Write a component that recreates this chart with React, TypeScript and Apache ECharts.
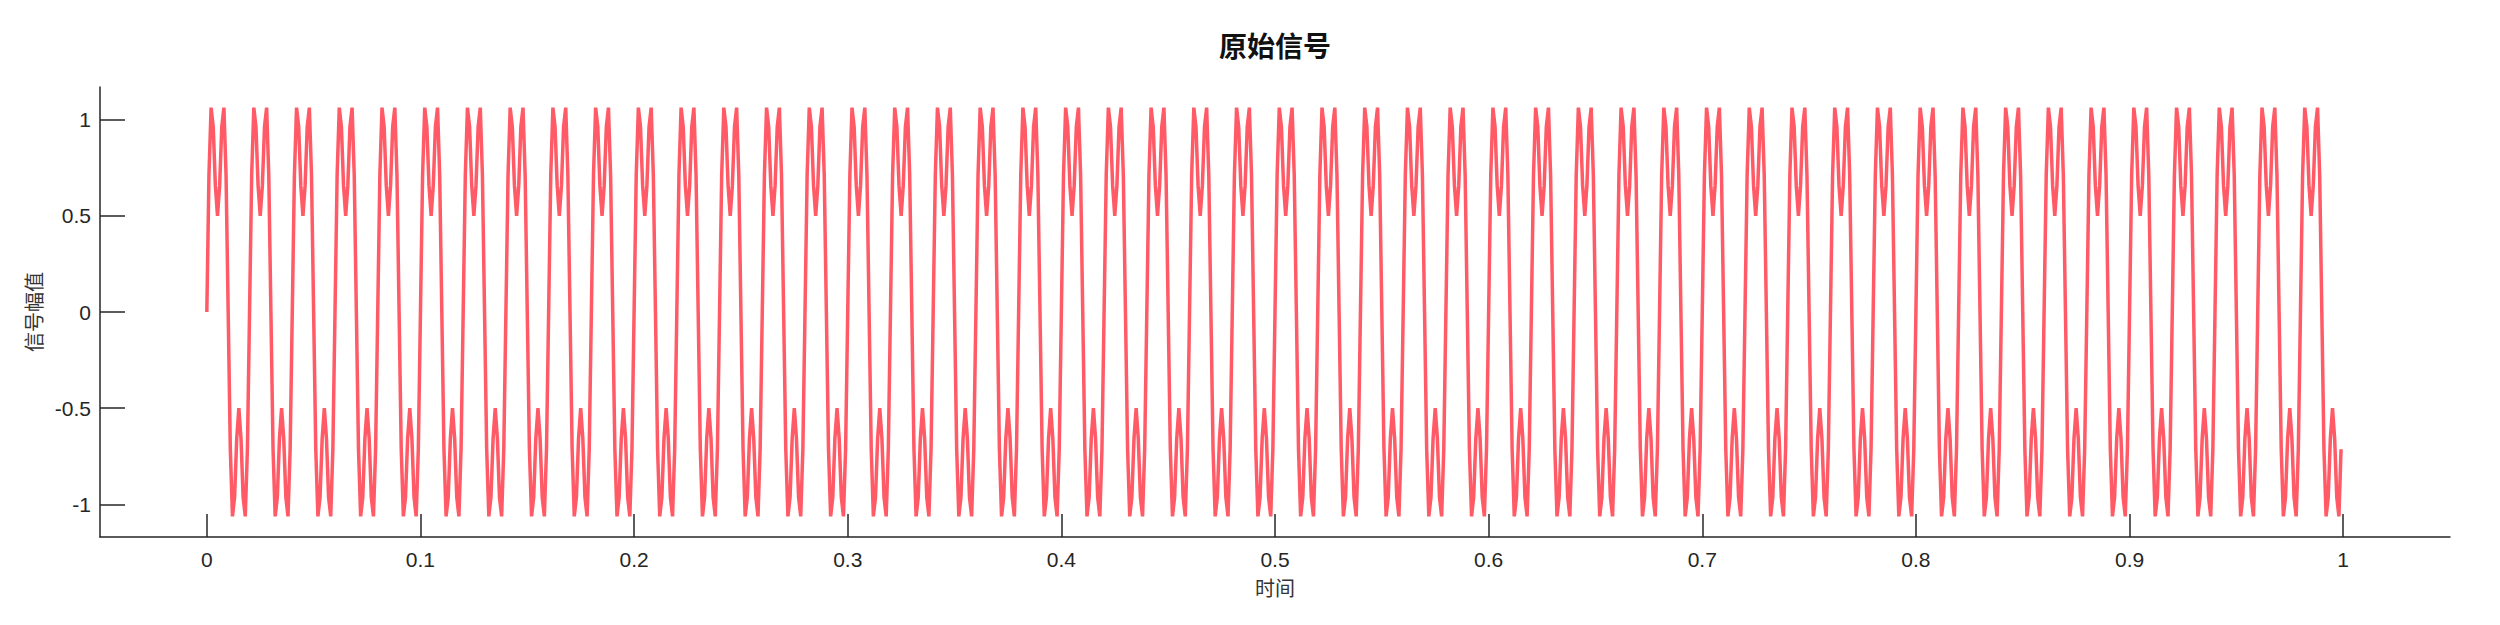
import React, { useEffect, useRef } from "react";
import * as echarts from "echarts";

// One period (20 samples at 1 kHz) of the 50 Hz signal
const periodValues: number[] = [
  0, 0.714, 1.063, 0.964, 0.657, 0.5, 0.657, 0.964, 1.063, 0.714,
  0, -0.714, -1.063, -0.964, -0.657, -0.5, -0.657, -0.964, -1.063, -0.714,
];
const sampleStep = 0.001; // seconds between samples
const sampleCount = 1000; // samples shown, t = 0 … 0.999
const xTicks: number[] = [0, 0.1, 0.2, 0.3, 0.4, 0.5, 0.6, 0.7, 0.8, 0.9, 1];
const yTicks: number[] = [-1, -0.5, 0, 0.5, 1];

const titleText = "原始信号";
const xName = "时间";
const yName = "信号幅值";

export default function App() {
  const ref = useRef<HTMLDivElement>(null);
  useEffect(() => {
    if (!ref.current) return;
    const chart = echarts.init(ref.current, undefined, { renderer: "svg" });
    const data: [number, number][] = [];
    for (let i = 0; i < sampleCount; i++) {
      data.push([Number((i * sampleStep).toFixed(3)), periodValues[i % periodValues.length]]);
    }
    const axisColor = "#262626";
    const latin = "'Liberation Sans', Arial, sans-serif";
    const cjk = "'Noto Sans CJK SC', sans-serif";
    chart.setOption({
      animation: false,
      backgroundColor: "#ffffff",
      graphic: [
        {
          type: "text",
          x: 1275,
          y: 45,
          style: {
            text: titleText,
            fontFamily: cjk,
            fontSize: 28,
            fontWeight: "bold",
            fill: "#111",
            align: "center",
            verticalAlign: "middle",
          },
        },
      ],
      grid: { left: 100, right: 50, top: 87, bottom: 88 },
      xAxis: {
        type: "value",
        min: -0.05,
        max: 1.05,
        name: xName,
        nameLocation: "middle",
        nameGap: 40,
        nameTextStyle: { fontFamily: cjk, fontSize: 20, color: "#333" },
        axisLine: { show: true, onZero: false, lineStyle: { color: axisColor, width: 1.5 } },
        axisTick: { show: true, inside: true, length: 23, customValues: xTicks, lineStyle: { color: axisColor, width: 1.5 } },
        axisLabel: { customValues: xTicks, margin: 12, fontFamily: latin, fontSize: 21, color: axisColor },
        splitLine: { show: false },
      },
      yAxis: {
        type: "value",
        min: -1.17,
        max: 1.17,
        name: yName,
        nameLocation: "middle",
        nameGap: 52,
        nameTextStyle: { fontFamily: cjk, fontSize: 20, color: "#333" },
        axisLine: { show: true, onZero: false, lineStyle: { color: axisColor, width: 1.5 } },
        axisTick: { show: true, inside: true, length: 25, customValues: yTicks, lineStyle: { color: axisColor, width: 1.5 } },
        axisLabel: { customValues: yTicks, margin: 9, fontFamily: latin, fontSize: 21, color: axisColor },
        splitLine: { show: false },
      },
      series: [
        {
          type: "line",
          data,
          showSymbol: false,
          symbol: "none",
          lineStyle: { color: "#ff5a66", width: 3.5 },
        },
      ],
    });
    return () => chart.dispose();
  }, []);
  return (
    <div
      ref={ref}
      style={{ position: "fixed", left: 0, top: 0, width: 2500, height: 625, background: "#fff" }}
    />
  );
}
